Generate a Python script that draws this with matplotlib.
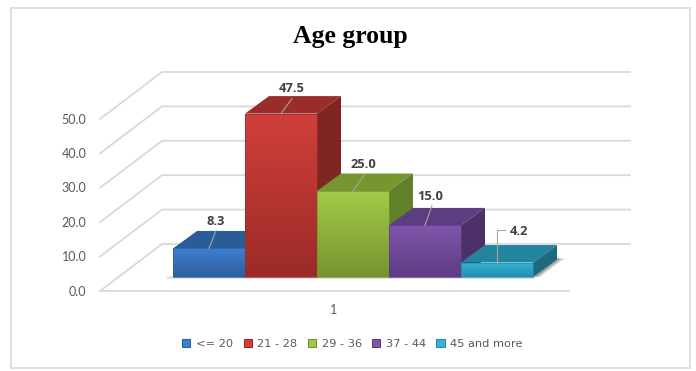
import numpy as np
import matplotlib
matplotlib.use("Agg")
import matplotlib.pyplot as plt
from matplotlib.patches import Polygon, Rectangle, Patch
from matplotlib.colors import LinearSegmentedColormap

categories = ["<= 20", "21 - 28", "29 - 36", "37 - 44", "45 and more"]
values = [8.3, 47.5, 25.0, 15.0, 4.2]
ticks = [0, 10, 20, 30, 40, 50]
tick_labels = ["0.0", "10.0", "20.0", "30.0", "40.0", "50.0"]
front_top = ["#3f7fd0", "#d03f3b", "#a2c94a", "#8056ac", "#33b3d6"]
front_bot = ["#2c5f9e", "#9c2b28", "#76952f", "#5d3c82", "#2590ae"]
top_cols = ["#2a5c98", "#992d2a", "#76962f", "#5c3d80", "#23849f"]
side_cols = ["#234e82", "#7f2523", "#62802a", "#4c3169", "#1c6a80"]

# layout: leader end and label centre offsets from each bar's top centre
leader_dx = [7, 11, 12, 7, 8]
leader_dy = [18, 15, 17, 20, 33]
label_dx = [7, 10.5, 10.5, 5, 22]
label_dy = [27, 24.6, 26, 29, 31]

PX = 3.44          # pixels per value unit
X0, Y0 = 100, 291  # front floor corner
DX, DY = 62, 47    # wall depth
BX, BY, BW = 173, 277, 72.0  # bars' front base
BDX, BDY = 24, 17.5
GRID = "#d9d9d9"

fig = plt.figure(figsize=(6.96, 3.71), dpi=100)
ax = fig.add_axes([0, 0, 1, 1])
ax.set_xlim(0, 696)
ax.set_ylim(371, 0)
ax.axis("off")
plt.rcParams["font.family"] = ["DejaVu Sans"]

ax.add_patch(Rectangle((10.5, 7.5), 679, 360, fc="white", ec="#d9d9d9", lw=1.2))

# walls and floor grid
for t, lab in zip(ticks, tick_labels):
    yf = Y0 - PX * t
    ax.plot([X0, X0 + DX, 630], [yf, yf - DY, yf - DY], color=GRID, lw=1.3, zorder=1)
    ax.text(86.5, yf + 0.5, lab, ha="right", va="center", fontsize=9, family="Lato", color="#595959")
ax.plot([X0, 569], [Y0, Y0], color=GRID, lw=1.3, zorder=1)

# soft shadow
n = len(values)
R = BX + n * BW
for k in range(1, 9):
    ax.add_patch(Polygon([(R, BY), (R + BDX, BY - BDY - 1), (R + BDX + k, BY - BDY - 1), (R + 0.9 * k, BY)],
                         fc="black", alpha=0.07, ec="none", zorder=2))
ax.add_patch(Rectangle((BX - 6, BY - 1), n * BW + 8, 3, fc="#c8c8c8", alpha=0.5, ec="none", zorder=2))

for i, v in enumerate(values):
    z = 3 + i
    l, r, t = BX + i * BW, BX + (i + 1) * BW, BY - PX * v
    ax.add_patch(Polygon([(l, t), (l + BDX, t - BDY), (r + BDX, t - BDY), (r, t)],
                         fc=top_cols[i], ec="none", zorder=z))
    ax.add_patch(Polygon([(r, t), (r + BDX, t - BDY), (r + BDX, BY - BDY), (r, BY)],
                         fc=side_cols[i], ec="none", zorder=z))
    cm = LinearSegmentedColormap.from_list("g", [front_top[i], front_bot[i]])
    im = ax.imshow(np.linspace(0, 1, 64)[:, None], cmap=cm, extent=[l, r, BY, t],
                   aspect="auto", zorder=z + 0.1)
    clip = Rectangle((l, t), r - l, BY - t, fc="none", ec="none", transform=ax.transData)
    ax.add_patch(clip)
    im.set_clip_path(clip)
    ax.add_patch(Rectangle((l, t), r - l, BY - t, fc="none",
                           ec=front_bot[i], lw=0.5, zorder=z + 0.2))
    # leader and data label
    c = (l + r) / 2
    if i == n - 1:
        ax.plot([c, c, c + leader_dx[i]], [t, t - leader_dy[i], t - leader_dy[i]],
                color="#a6a6a6", lw=0.8, zorder=20)
    else:
        ax.plot([c, c + leader_dx[i]], [t, t - leader_dy[i]], color="#a6a6a6", lw=0.8, zorder=20)
    ax.text(c + label_dx[i], t - label_dy[i], f"{v:.1f}", ha="center", va="center", fontsize=9.3,
            fontweight="bold", family="Open Sans", color="#404040", zorder=21)

ax.set_ylim(371, 0)
ax.set_xlim(0, 696)

ax.text(350.5, 36.5, "Age group", ha="center", va="center", fontsize=18.5, fontweight="bold",
        family="Liberation Serif", color="black")
ax.text(334, 310, "1", ha="center", va="center", fontsize=9, family="Lato", color="#595959")

handles = [Patch(fc=front_top[i], ec=front_bot[i], lw=0.8, label=categories[i]) for i in range(n)]
ax.legend(handles=handles, loc="center", bbox_to_anchor=(352.5 / 696, 1 - 344 / 371), ncol=n,
          frameon=False, fontsize=8.2, labelcolor="#595959", handlelength=0.72, handleheight=0.72,
          handletextpad=0.5, columnspacing=0.9, borderpad=0, borderaxespad=0)

fig.savefig("out.png", dpi=100)
